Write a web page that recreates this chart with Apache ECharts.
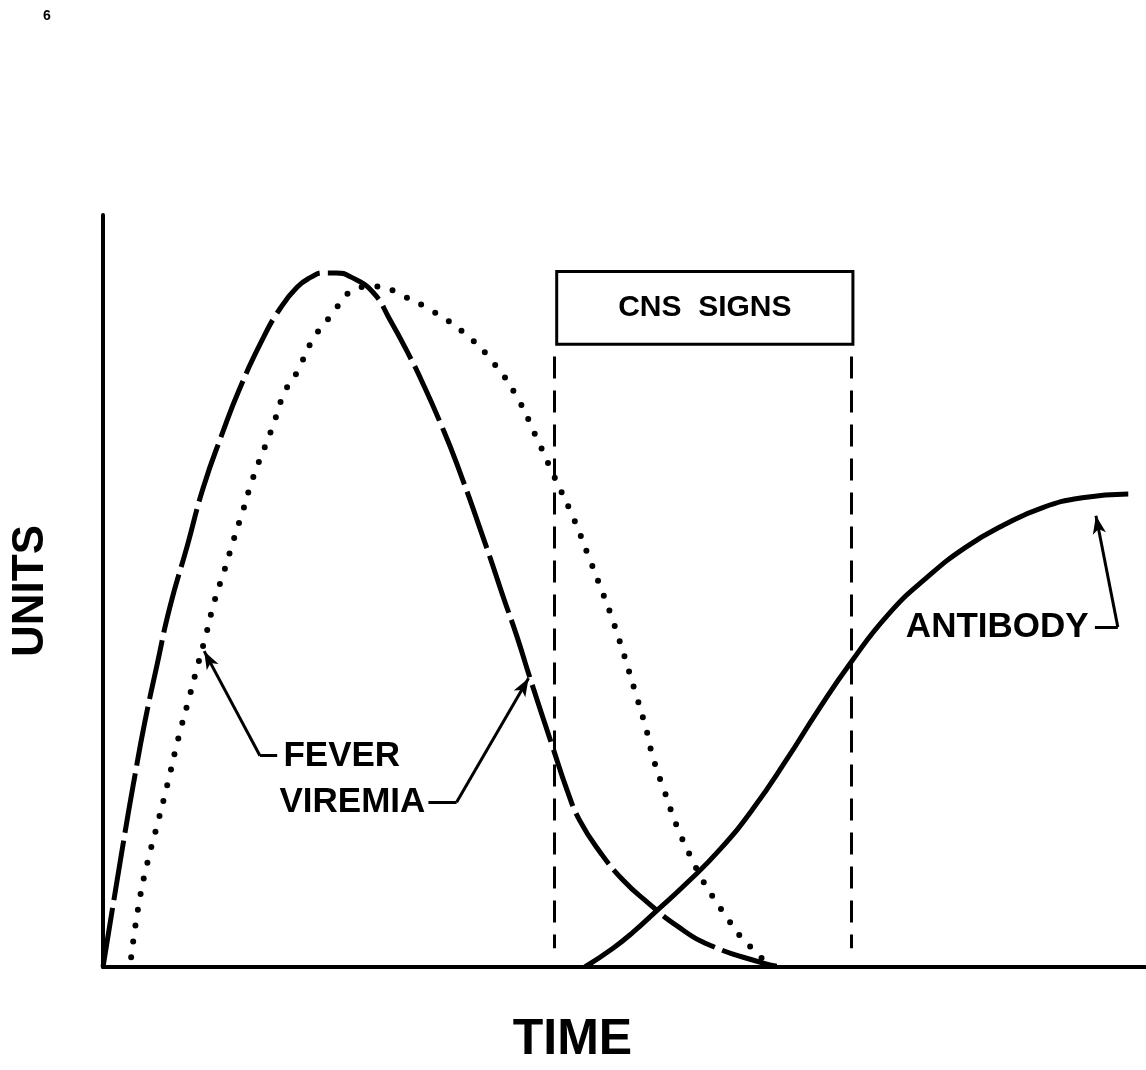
<!DOCTYPE html>
<html>
<head>
<meta charset="utf-8">
<script src="https://cdn.jsdelivr.net/npm/echarts@6/dist/echarts.min.js"></script>
<style>
  html, body { margin: 0; padding: 0; background: #fff; }
  #chart { width: 1146px; height: 1070px; }
</style>
</head>
<body>
<div id="chart"></div>
<script>
// curves, [time, units] on a 0-100 scale
const viremia = [
  [0, 0], [2.1, 17.8], [3.0, 25.0], [4.0, 32.5], [5.2, 40.3], [6.4, 47.8],
  [8.1, 56.1], [9.6, 63.7], [11.5, 71.2], [13.1, 76.9], [15.3, 83.5],
  [17.0, 87.6], [18.6, 90.4], [19.9, 91.7], [21.1, 92.3], [22.4, 92.3],
  [23.7, 91.8], [25.9, 89.7], [27.5, 86.1], [29.4, 81.2], [30.7, 77.5],
  [32.3, 72.5], [33.9, 67.0], [36.8, 55.7], [38.4, 49.1], [39.7, 43.9],
  [40.9, 38.6], [43.1, 29.3], [44.5, 23.5], [45.7, 19.5], [47.7, 15.2],
  [49.9, 11.5], [52.2, 8.6], [55.0, 5.5], [58.2, 2.9], [63.3, 0.5], [64.6, 0.1]
]
const fever = [
  [2.7, 1.3], [3.5, 8.9], [4.3, 14.1], [5.2, 18.9], [6.2, 24.4], [7.2, 30.3],
  [8.2, 35.5], [9.1, 40.2], [9.9, 44.3], [10.7, 48.7], [11.7, 53.0],
  [12.5, 56.7], [13.4, 60.6], [14.4, 65.1], [16.2, 71.6], [17.4, 76.4],
  [18.6, 79.1], [20.1, 83.4], [22.0, 86.9], [23.5, 89.6], [24.6, 90.4],
  [26.3, 90.5], [28.8, 89.2], [31.6, 87.2], [34.9, 84.0], [37.4, 80.4],
  [39.6, 76.0], [41.6, 70.3], [43.1, 65.7], [45.1, 59.7], [46.5, 54.8],
  [47.7, 50.5], [49.0, 45.6], [51.0, 36.7], [52.2, 31.0], [52.7, 28.0],
  [53.9, 23.1], [55.0, 18.8], [56.3, 14.8], [57.5, 11.5], [58.4, 9.5],
  [60.1, 6.0], [61.1, 4.1], [62.2, 2.5], [63.2, 1.1], [63.6, 0.3]
]
const antibody = [
  [46.2, 0], [48.9, 2.5], [50.8, 4.6], [53.1, 7.5], [56.0, 11.2],
  [59.2, 15.7], [62.3, 21.0], [65.6, 27.7], [68.5, 34.0],
  [71.7, 40.5], [75.3, 46.9], [79.0, 51.8], [82.7, 55.8], [86.4, 58.8],
  [90.1, 61.1], [93.9, 62.4], [98.3, 62.9]
]

// CNS signs period
const cnsStart = 43.3
const cnsEnd = 71.7
const cnsBox = [[43.5, 92.5], [71.9, 82.8]]
const cnsLineTop = 81.2
const cnsLineBottom = 2.5

// labels: text anchor, leader dash, arrow [from, to]
const feverLabel = {text: 'FEVER', at: [17.3, 28.0], dash: [[15.05, 28.1], [16.7, 28.1]], arrow: [[15.05, 28.1], [9.7, 42.0]]}
const viremiaLabel = {text: 'VIREMIA', at: [30.9, 21.9], dash: [[31.2, 21.9], [33.9, 21.9]], arrow: [[33.9, 21.9], [40.8, 38.4]]}
const antibodyLabel = {text: 'ANTIBODY', at: [94.5, 45.2], dash: [[95.1, 45.2], [97.3, 45.2]], arrow: [[97.3, 45.2], [95.2, 60.0]]}

const font = 'Liberation Sans'
const plain = (p) => [{coord: p[0], symbol: 'none'}, {coord: p[1], symbol: 'none'}]
const arrow = (p) => [{coord: p[0], symbol: 'none'}, {coord: p[1], symbol: 'arrow', symbolSize: [10, 18]}]
const textPoint = (l, pos) => ({
  coord: l.at,
  symbolSize: 0,
  label: {show: true, position: pos, distance: 0, formatter: l.text, color: '#000', fontFamily: font, fontWeight: 'bold', fontSize: 35}
})

const chart = echarts.init(document.getElementById('chart'))
chart.setOption({
  animation: false,
  backgroundColor: '#fff',
  title: {text: '6', left: 38, top: 4, textStyle: {fontFamily: font, fontSize: 14, fontWeight: 'bold', color: '#000'}},
  grid: {left: 103, right: 0, top: 215, bottom: 98},
  xAxis: {
    type: 'value', min: 0, max: 100,
    name: 'TIME', nameLocation: 'middle', nameGap: 48,
    nameTextStyle: {fontFamily: font, fontWeight: 'bold', fontSize: 50, color: '#000', padding: [0, 104, 0, 0]},
    axisLine: {lineStyle: {color: '#000', width: 4}},
    axisTick: {show: false}, axisLabel: {show: false}, splitLine: {show: false}
  },
  yAxis: {
    type: 'value', min: 0, max: 100,
    name: 'UNITS', nameLocation: 'middle', nameGap: 50, nameRotate: 90,
    nameTextStyle: {fontFamily: font, fontWeight: 'bold', fontSize: 44, color: '#000'},
    axisLine: {show: true, lineStyle: {color: '#000', width: 4}},
    axisTick: {show: false}, axisLabel: {show: false}, splitLine: {show: false}
  },
  series: [
    {
      name: 'VIREMIA', type: 'line', data: viremia, smooth: 0.5, showSymbol: false, z: 3,
      lineStyle: {color: '#000', width: 5, type: [60, 8]}
    },
    {
      name: 'FEVER', type: 'line', data: fever, smooth: 0.5, showSymbol: false, z: 3,
      lineStyle: {color: '#000', width: 6, type: [0, 16], cap: 'round'}
    },
    {
      name: 'ANTIBODY', type: 'line', data: antibody, smooth: 0.5, showSymbol: false, z: 3,
      lineStyle: {color: '#000', width: 5},
      markArea: {
        silent: true,
        itemStyle: {color: 'rgba(0,0,0,0)', borderColor: '#000', borderWidth: 3},
        label: {show: true, position: 'inside', formatter: 'CNS  SIGNS', color: '#000', fontFamily: font, fontWeight: 'bold', fontSize: 30},
        data: [[{coord: cnsBox[0]}, {coord: cnsBox[1]}]]
      },
      markLine: {
        silent: true, animation: false,
        label: {show: false},
        lineStyle: {color: '#000', width: 3, type: 'solid'},
        data: [
          [{coord: [cnsStart, cnsLineTop], symbol: 'none', lineStyle: {type: [22, 12], width: 3}}, {coord: [cnsStart, cnsLineBottom], symbol: 'none'}],
          [{coord: [cnsEnd, cnsLineTop], symbol: 'none', lineStyle: {type: [22, 12], width: 3}}, {coord: [cnsEnd, cnsLineBottom], symbol: 'none'}],
          plain(feverLabel.dash), arrow(feverLabel.arrow),
          plain(viremiaLabel.dash), arrow(viremiaLabel.arrow),
          plain(antibodyLabel.dash), arrow(antibodyLabel.arrow)
        ]
      },
      markPoint: {
        silent: true,
        data: [textPoint(feverLabel, 'right'), textPoint(viremiaLabel, 'left'), textPoint(antibodyLabel, 'left')]
      }
    }
  ]
})
</script>
</body>
</html>
